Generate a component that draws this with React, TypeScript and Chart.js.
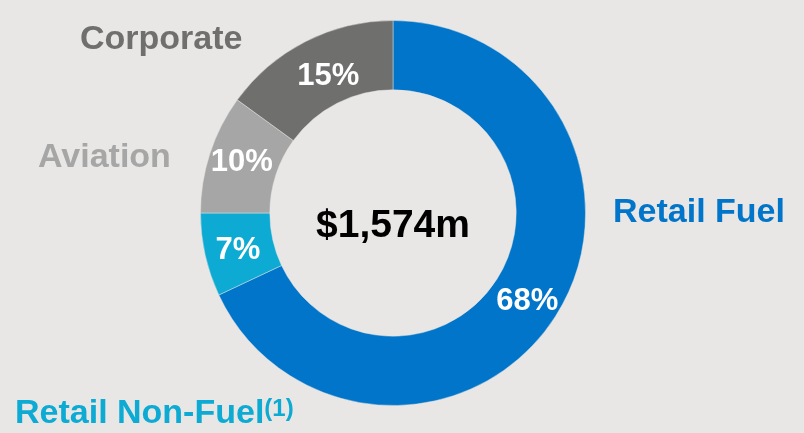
import React, { useEffect, useRef } from "react";
import { Chart, registerables } from "chart.js";

Chart.register(...registerables);

const categories = ["Retail Fuel", "Retail Non-Fuel", "Aviation", "Corporate"];
const shares = [68, 7, 10, 15];
const shareLabels = ["68%", "7%", "10%", "15%"];
const sliceColors = ["#0075C9", "#0DABD3", "#A6A6A6", "#6F6F6E"];
const totalLabel = "$1,574m";

const BG = "#E8E7E5";
const FONT = "'Liberation Sans', Arial, Helvetica, sans-serif";
// small nudges for the in-slice percentage labels [dx, dy]
const labelNudge = [[1, 3], [-1, 2], [-1, -3], [7, 3]];

const labelPlugin = {
  id: "labels",
  afterDatasetsDraw(chart: any) {
    const ctx = chart.ctx;
    const meta = chart.getDatasetMeta(0);
    ctx.save();
    ctx.fillStyle = "#FFFFFF";
    ctx.font = `bold 31px ${FONT}`;
    ctx.textAlign = "center";
    ctx.textBaseline = "middle";
    meta.data.forEach((arc: any, i: number) => {
      const p = arc.tooltipPosition();
      ctx.fillText(shareLabels[i], p.x + labelNudge[i][0], p.y + 1 + labelNudge[i][1]);
    });
    const cx = (chart.chartArea.left + chart.chartArea.right) / 2;
    ctx.fillStyle = "#000000";
    ctx.font = `bold 39px ${FONT}`;
    ctx.textBaseline = "alphabetic";
    ctx.fillText(totalLabel, cx, 237);

    ctx.textAlign = "left";
    ctx.font = `bold 34px ${FONT}`;
    ctx.fillStyle = sliceColors[3];
    ctx.fillText(categories[3], 80, 49);
    ctx.fillStyle = sliceColors[2];
    ctx.fillText(categories[2], 38, 167);
    ctx.fillStyle = sliceColors[0];
    ctx.fillText(categories[0], 613, 222);
    ctx.fillStyle = sliceColors[1];
    ctx.fillText(categories[1], 15, 423);
    const w = ctx.measureText(categories[1]).width;
    ctx.font = `bold 24px ${FONT}`;
    ctx.fillText("(1)", 15 + w, 416);
    ctx.restore();
  },
};

export default function App() {
  const ref = useRef<HTMLCanvasElement>(null);
  useEffect(() => {
    document.body.style.margin = "0";
    const chart = new Chart(ref.current!, {
      type: "doughnut",
      data: {
        labels: categories,
        datasets: [
          {
            data: shares,
            backgroundColor: sliceColors,
            borderWidth: 1,
            borderColor: "rgba(232,231,229,0.45)",
          },
        ],
      },
      options: {
        responsive: false,
        animation: false,
        cutout: "64%",
        layout: { padding: { top: 20, bottom: 27, left: 200, right: 218 } },
        plugins: { legend: { display: false }, tooltip: { enabled: false } },
      },
      plugins: [labelPlugin],
    });
    return () => chart.destroy();
  }, []);
  return (
    <div style={{ position: "fixed", left: 0, top: 0, width: 804, height: 433, background: BG }}>
      <canvas ref={ref} width={804} height={433} style={{ display: "block" }} />
    </div>
  );
}
